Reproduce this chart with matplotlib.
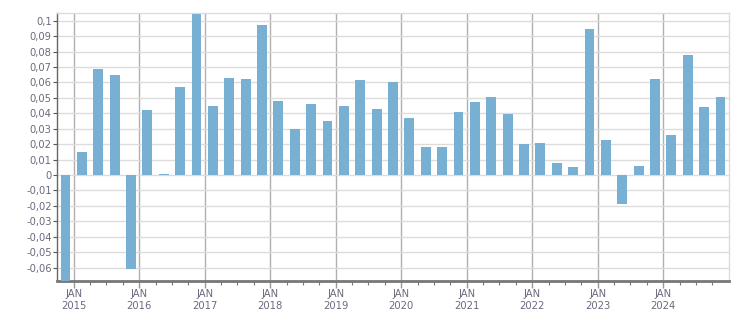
import matplotlib as mpl
mpl.use("Agg")
import matplotlib.pyplot as plt
import numpy as np

# quarterly values, Q4 2014 .. Q4 2024
YEARS = list(range(2015, 2025))
VALUES = [
    -0.075,                          # Q4 2014 (runs off the bottom)
    0.0149, 0.0687, 0.0648, -0.0607,  # 2015
    0.0421, 0.0004, 0.0570, 0.1043,  # 2016
    0.0447, 0.0629, 0.0622, 0.0972,  # 2017
    0.0479, 0.0298, 0.0460, 0.0350,  # 2018
    0.0447, 0.0616, 0.0428, 0.0603,  # 2019
    0.0369, 0.0181, 0.0181, 0.0408,  # 2020
    0.0473, 0.0505, 0.0395, 0.0201,  # 2021
    0.0207, 0.0078, 0.0052, 0.0946,  # 2022
    0.0227, -0.0186, 0.0058, 0.0622,  # 2023
    0.0259, 0.0778, 0.0441, 0.0505,  # 2024
]
YTICKS = [-0.06, -0.05, -0.04, -0.03, -0.02, -0.01, 0,
          0.01, 0.02, 0.03, 0.04, 0.05, 0.06, 0.07, 0.08, 0.09, 0.1]

BAR_COLOR = "#78b0d3"
TEXT_COLOR = "#6a6a80"

mpl.rcParams.update({"font.family": "DejaVu Sans", "font.size": 7.2})

# bar centres at the middle of each quarter, starting with Q4 2014
x = 2014.875 + 0.25 * np.arange(len(VALUES))

fig = plt.figure(figsize=(7.51, 3.13), dpi=100)
ax = fig.add_axes((0.0763, 0.1032, 0.894, 0.8543))

ax.bar(x, VALUES, width=0.152, color=BAR_COLOR, zorder=3)

ax.set_xlim(2014.75, 2025.0)
ax.set_ylim(-0.0685, 0.1048)

ax.set_yticks(YTICKS)
ax.set_yticklabels([("%g" % v).replace(".", ",") for v in YTICKS])
ax.yaxis.grid(True, color="#dcdcdc", linewidth=1.0, zorder=0)

ax.set_xticks(YEARS)
ax.set_xticklabels(["JAN\n%d" % y for y in YEARS], linespacing=1.3)
ax.set_xticks(np.arange(2015.0, 2025.0, 0.25), minor=True)
ax.xaxis.grid(True, which="major", color="#b0b0b0", linewidth=1.0, zorder=1)

ax.tick_params(axis="y", colors="#555555", labelcolor=TEXT_COLOR,
               length=3, width=0.8, pad=1)
ax.tick_params(axis="x", which="major", colors="#999999",
               labelcolor=TEXT_COLOR, length=5, width=1.0, pad=1)
ax.tick_params(axis="x", which="minor", colors="#777777", length=3, width=0.8)

for side in ("top", "right"):
    ax.spines[side].set_color("#dcdcdc")
    ax.spines[side].set_linewidth(1.0)
ax.spines["left"].set_color("#666666")
ax.spines["left"].set_linewidth(1.0)
ax.spines["bottom"].set_color("#777777")
ax.spines["bottom"].set_linewidth(2.0)

plt.savefig("out.png", dpi=100)
